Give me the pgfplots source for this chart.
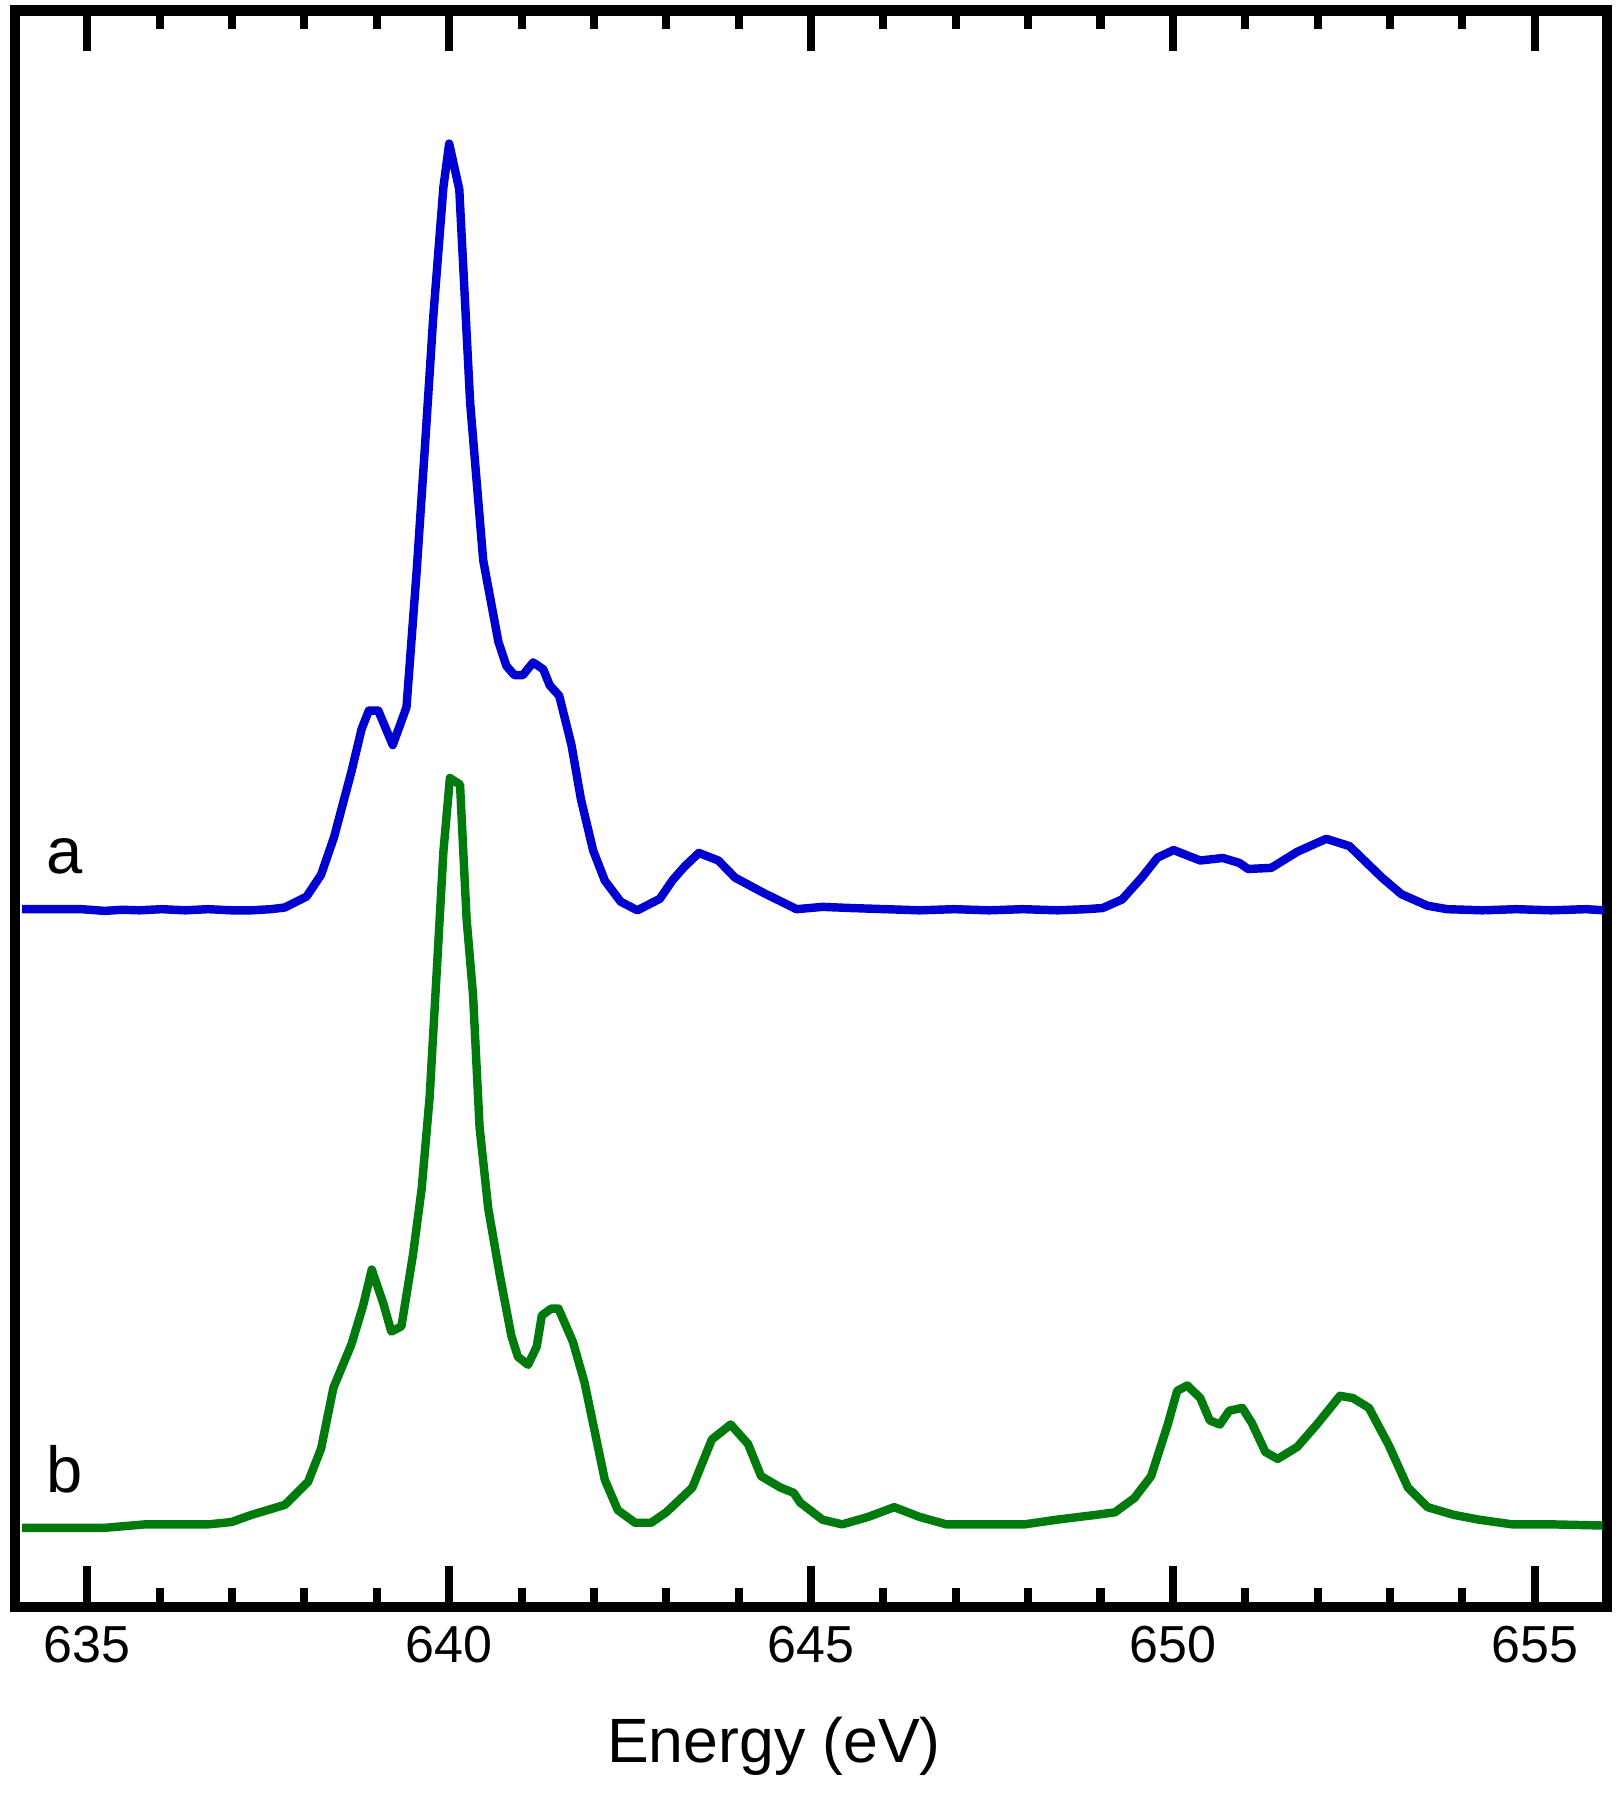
\documentclass[border=0pt]{standalone}
\usepackage{pgfplots}
\pgfplotsset{compat=1.18}
\usepackage{fontspec}
\setmainfont{Liberation Sans}
\definecolor{specblue}{RGB}{0,0,208}
\definecolor{specgreen}{RGB}{0,122,12}

\begin{document}
\begin{tikzpicture}
\path[use as bounding box] (0,0) rectangle (16.2cm,18cm);
\begin{axis}[
    scale only axis,
    at={(0.15cm,1.93cm)}, anchor=south west,
    width=15.92cm, height=15.965cm,
    xmin=634, xmax=656, ymin=0, ymax=1391,
    xtick={635,640,645,650,655},
    minor x tick num=4,
    ytick=\empty,
    tick align=inside,
    xtick pos=both,
    major tick length=0.41cm,
    minor tick length=0.19cm,
    every tick/.style={black, line width=2.3pt},
    axis line style={line width=3.1pt},
    /pgf/number format/assume math mode=true,
    /pgf/number format/1000 sep={},
    xticklabel style={font=\fontsize{14.8}{16}\selectfont, yshift=-2pt},
    xlabel={Energy (eV)},
    xlabel style={font=\fontsize{17.8}{20}\selectfont, yshift=-8.5pt, xshift=-0.37cm},
    every axis plot/.append style={line width=2.4pt, line join=round},
]
% spectrum a (blue)
\addplot[specblue] coordinates {
(634.10,608) (634.45,608) (634.92,608) (635.24,606.5) (635.48,607.5) (635.72,607)
(636.03,608) (636.35,607) (636.67,608) (636.99,607) (637.27,607) (637.54,608)
(637.73,609.5) (638.03,619) (638.23,638) (638.41,671) (638.65,728) (638.79,765)
(638.89,781) (639.02,781) (639.22,751) (639.41,784) (639.55,902) (639.66,1006)
(639.78,1124) (639.92,1237) (640.00,1275) (640.14,1235) (640.29,1049) (640.47,912)
(640.68,841) (640.79,820) (640.90,812) (641.02,812) (641.16,823) (641.30,817)
(641.39,803) (641.52,794) (641.69,751) (641.82,704) (641.99,659) (642.15,633)
(642.37,614.5) (642.60,607) (642.91,617) (643.09,633.5) (643.25,645) (643.45,657)
(643.72,650.4) (643.95,635.5) (644.35,622) (644.80,608) (645.16,610) (645.55,609)
(646.03,608) (646.50,607) (646.98,608) (647.46,607) (647.93,608) (648.41,607)
(648.81,608) (649.03,609) (649.30,616.5) (649.57,635.5) (649.79,653) (650.01,659.5)
(650.38,650.4) (650.69,652.6) (650.92,648.3) (651.04,643) (651.36,644) (651.72,658)
(652.12,669.3) (652.44,663) (652.89,635.5) (653.16,621) (653.52,611) (653.79,608)
(654.28,607) (654.75,608) (655.23,607) (655.71,608) (655.96,607)
};
% spectrum b (green)
\addplot[specgreen] coordinates {
(634.10,69) (634.76,69) (635.24,69) (635.80,72) (636.67,72) (636.99,74)
(637.27,80.3) (637.73,89) (638.05,109) (638.23,138) (638.40,191) (638.65,229)
(638.81,262.4) (638.93,294) (639.09,264.5) (639.20,240) (639.34,244.5) (639.50,307)
(639.62,364.5) (639.73,444.4) (639.83,556) (639.92,658) (640.01,722.3) (640.15,716.5)
(640.24,600) (640.33,533) (640.42,418) (640.54,347) (640.70,289) (640.86,236)
(640.95,218) (641.09,211) (641.21,227) (641.28,254) (641.41,260) (641.51,260)
(641.71,231) (641.87,195.6) (642.15,111) (642.33,84.4) (642.57,73.4) (642.79,73.4)
(643.00,82.5) (643.36,104) (643.63,146) (643.89,159) (644.13,142) (644.31,114)
(644.58,104) (644.76,99.5) (644.85,91) (645.16,76) (645.43,72) (645.79,78.5)
(646.15,87) (646.50,78.5) (646.87,72) (647.46,72) (647.95,72) (648.39,76)
(648.94,80.3) (649.20,82.5) (649.47,95) (649.70,114) (649.93,159) (650.06,188.3)
(650.20,193) (650.38,182) (650.51,162.6) (650.65,159) (650.78,171) (650.96,173.5)
(651.09,160.5) (651.28,135) (651.45,129) (651.72,139.5) (651.99,159) (652.31,184)
(652.49,182) (652.71,173.5) (652.98,141.5) (653.25,104) (653.52,87) (653.88,80.3)
(654.24,76) (654.69,72) (655.23,72) (655.94,71)
};
\node[font=\fontsize{18.5}{20}\selectfont] at (axis cs:634.69,654) {a};
\node[font=\fontsize{18.5}{20}\selectfont] at (axis cs:634.69,120) {b};
\end{axis}
\end{tikzpicture}
\end{document}
